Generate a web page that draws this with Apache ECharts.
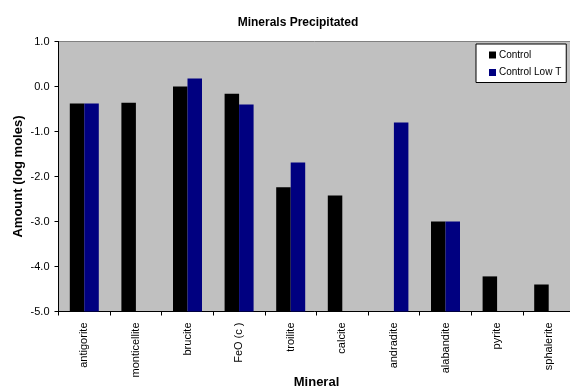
<!DOCTYPE html>
<html><head><meta charset="utf-8">
<script src="https://cdn.jsdelivr.net/npm/echarts@6/dist/echarts.min.js"></script>
<style>html,body{margin:0;padding:0;background:#fff}#c{width:570px;height:387px}</style>
</head><body><div id="c"></div>
<script>
const categories = ['antigorite','monticellite','brucite','FeO (c )','troilite','calcite','andradite','alabandite','pyrite','sphalerite'];
const control = [-0.38, -0.36, 0.0, -0.16, -2.24, -2.42, null, -3.0, -4.22, -4.40];
const controlLowT = [-0.38, null, 0.18, -0.40, -1.69, null, -0.80, -3.0, null, null];
const yMin = -5, yMax = 1;
const F = '"Liberation Sans", Arial, sans-serif';
const shift = a => a.map(v => v === null ? null : v - yMin);
const chart = echarts.init(document.getElementById('c'), null, {renderer:'canvas'});
chart.setOption({
  animation:false,
  title:{text:'Minerals Precipitated', left:293, top:12, textAlign:'center',
    textStyle:{fontFamily:F, fontSize:12, fontWeight:'bold', color:'#000'}},
  legend:{orient:'vertical', left:476, top:44, itemWidth:7, itemHeight:7, itemGap:7.5,
    icon:'rect', backgroundColor:'#fff', borderColor:'#000', borderWidth:1,
    padding:[6,5,5,13], textStyle:{fontFamily:F, fontSize:10, color:'#000', padding:[0,0,0,-2]},
    data:['Control','Control Low T']},
  grid:{left:58.5, top:41.5, width:516, height:270, show:true, backgroundColor:'#C0C0C0',
    borderColor:'#808080', borderWidth:1, containLabel:false, outerBoundsMode:'none'},
  xAxis:{type:'category', data:categories, name:'Mineral', nameLocation:'middle', nameGap:64,
    nameMoveOverlap:false,
    nameTextStyle:{fontFamily:F, fontSize:13, fontWeight:'bold', color:'#000'},
    axisLine:{lineStyle:{color:'#000', width:1}},
    axisTick:{show:true, length:4, lineStyle:{color:'#000'}},
    axisLabel:{rotate:90, interval:0, margin:11, fontFamily:F, fontSize:11, color:'#000'}},
  yAxis:{type:'value', min:0, max:yMax - yMin, interval:1,
    name:'Amount (log moles)', nameLocation:'middle', nameGap:34,
    nameMoveOverlap:false,
    nameTextStyle:{fontFamily:F, fontSize:13, fontWeight:'bold', color:'#000'},
    axisLine:{show:true, lineStyle:{color:'#000', width:1}},
    axisTick:{show:true, length:4, lineStyle:{color:'#000'}},
    splitLine:{show:false},
    axisLabel:{margin:9, fontFamily:F, fontSize:11, color:'#000',
      formatter: v => (v + yMin).toFixed(1)}},
  series:[
    {name:'Control', type:'bar', data:shift(control), barWidth:14.5, barGap:'0%',
      itemStyle:{color:'#000000'}},
    {name:'Control Low T', type:'bar', data:shift(controlLowT), barWidth:14.5, barGap:'0%',
      itemStyle:{color:'#000080'}}
  ]
});
</script></body></html>
